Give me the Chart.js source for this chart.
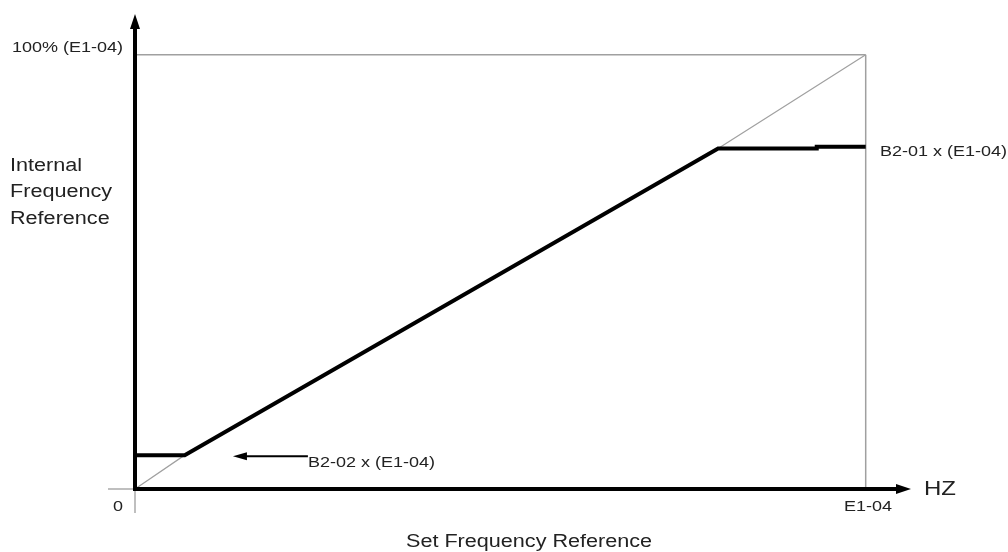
<!DOCTYPE html>
<html>
<head>
<meta charset="utf-8">
<script src="https://cdn.jsdelivr.net/npm/chart.js@4.4.1/dist/chart.umd.min.js"></script>
<style>
  body { margin: 0; background: #fff; }
  #wrap { width: 1008px; height: 552px; }
</style>
</head>
<body>
<div id="wrap"><canvas id="grafico" width="1008" height="552"></canvas></div>
<script>
// valores em % de E1-04 (x = referência ajustada, y = referência interna)
const refX = [0, 6.8, 79.8, 100];
const refY = [0, 7.8, 78.4, 100];

const saidaX = [0, 6.8, 79.8, 93.3, 93.3, 100];
const saidaY = [7.8, 7.8, 78.4, 78.4, 78.8, 78.8];

const topoX = [0, 100];
const topoY = [100, 100];
const direitaX = [100, 100];
const direitaY = [0, 100];

const eixoXMax = 106.2;
const eixoYMax = 109.4;

// textos
const rotuloY = ["Internal", "Frequency", "Reference"];
const rotuloX = "Set Frequency Reference";
const rotulo100 = "100% (E1-04)";
const rotuloB201 = "B2-01 x (E1-04)";
const rotuloB202 = "B2-02 x (E1-04)";
const rotuloE104 = "E1-04";
const rotuloHZ = "HZ";

function pontos(xs, ys) {
    return xs.map((x, i) => ({ x: x, y: ys[i] }));
}

function texto(ctx, t, x, y, size) {
    ctx.save();
    ctx.font = size + "px 'Liberation Sans', Arial, sans-serif";
    ctx.fillStyle = "#222";
    ctx.textBaseline = "middle";
    ctx.translate(x, y);
    ctx.scale(1.2, 1);
    ctx.fillText(t, 0, 0);
    ctx.restore();
}

const desenhoExtra = {
    id: "desenhoExtra",
    afterDatasetsDraw(chart) {
        const ctx = chart.ctx;
        const sx = chart.scales.x;
        const sy = chart.scales.y;
        const x0 = sx.getPixelForValue(0);
        const y0 = sy.getPixelForValue(0);
        const xFim = sx.getPixelForValue(eixoXMax);
        const yFim = sy.getPixelForValue(eixoYMax);

        ctx.save();
        // marquinhas cinzas na origem
        ctx.strokeStyle = "#aaa";
        ctx.lineWidth = 1.5;
        ctx.beginPath();
        ctx.moveTo(x0, y0);
        ctx.lineTo(x0, y0 + 24);
        ctx.moveTo(x0 - 27, y0);
        ctx.lineTo(x0, y0);
        ctx.stroke();

        // eixos
        ctx.strokeStyle = "#000";
        ctx.fillStyle = "#000";
        ctx.lineWidth = 4;
        ctx.beginPath();
        ctx.moveTo(x0, y0 + 2);
        ctx.lineTo(x0, yFim + 10);
        ctx.moveTo(x0 - 2, y0);
        ctx.lineTo(xFim - 10, y0);
        ctx.stroke();

        // setas dos eixos
        ctx.beginPath();
        ctx.moveTo(x0, yFim);
        ctx.lineTo(x0 - 5, yFim + 15);
        ctx.lineTo(x0 + 5, yFim + 15);
        ctx.closePath();
        ctx.fill();
        ctx.beginPath();
        ctx.moveTo(xFim, y0);
        ctx.lineTo(xFim - 15, y0 - 5);
        ctx.lineTo(xFim - 15, y0 + 5);
        ctx.closePath();
        ctx.fill();

        // seta apontando B2-02
        const ya = sy.getPixelForValue(saidaY[0]) + 1;
        const xa = sx.getPixelForValue(13.4);
        ctx.lineWidth = 2;
        ctx.beginPath();
        ctx.moveTo(xa + 10, ya);
        ctx.lineTo(xa + 75, ya);
        ctx.stroke();
        ctx.beginPath();
        ctx.moveTo(xa, ya);
        ctx.lineTo(xa + 14, ya - 4);
        ctx.lineTo(xa + 14, ya + 4);
        ctx.closePath();
        ctx.fill();
        ctx.restore();

        // textos
        texto(ctx, rotulo100, 12, sy.getPixelForValue(100) - 7, 15);
        rotuloY.forEach((t, i) => texto(ctx, t, 10, 166 + i * 26.5, 18));
        texto(ctx, rotuloB201, 880, sy.getPixelForValue(saidaY[5]) + 5, 15);
        texto(ctx, rotuloB202, 308, ya + 7, 15);
        texto(ctx, "0", 113, y0 + 18, 15);
        texto(ctx, rotuloE104, 844, y0 + 18, 15);
        texto(ctx, rotuloHZ, 924, y0, 20);
        texto(ctx, rotuloX, 406, 542, 18);
    }
};

const cinza = "#a0a0a0";

new Chart(document.getElementById("grafico"), {
    type: "scatter",
    data: {
        datasets: [
            { data: pontos(refX, refY), borderColor: cinza, borderWidth: 1.2, order: 2 },
            { data: pontos(topoX, topoY), borderColor: cinza, borderWidth: 1.5, order: 2 },
            { data: pontos(direitaX, direitaY), borderColor: cinza, borderWidth: 1.5, order: 2 },
            { data: pontos(saidaX, saidaY), borderColor: "#000", borderWidth: 4, order: 1 }
        ]
    },
    options: {
        responsive: false,
        animation: false,
        events: [],
        layout: { padding: { left: 135, right: 97, top: 14, bottom: 63 } },
        elements: {
            line: { tension: 0, borderCapStyle: "butt", borderJoinStyle: "miter" },
            point: { radius: 0 }
        },
        datasets: { scatter: { showLine: true, clip: false } },
        plugins: { legend: { display: false }, tooltip: { enabled: false } },
        scales: {
            x: { type: "linear", min: 0, max: eixoXMax, display: false },
            y: { type: "linear", min: 0, max: eixoYMax, display: false }
        }
    },
    plugins: [desenhoExtra]
});
</script>
</body>
</html>
